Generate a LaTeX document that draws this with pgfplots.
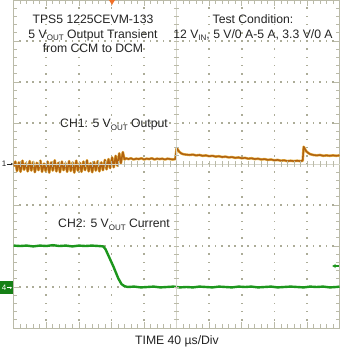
\documentclass[border=0pt]{standalone}
\usepackage{pgfplots}
\pgfplotsset{compat=1.18}
\usepackage{fontspec}
\setmainfont{Liberation Sans}
\usetikzlibrary{arrows.meta}
\definecolor{gridc}{RGB}{186,186,168}
\definecolor{dotc}{RGB}{172,172,152}
\definecolor{ch1}{RGB}{176,98,16}
\definecolor{ch1hi}{RGB}{228,176,70}
\definecolor{ch2}{RGB}{28,150,28}
\definecolor{ch2box}{RGB}{22,128,22}
\definecolor{trig}{RGB}{240,112,40}
\definecolor{txt}{RGB}{35,35,35}
\newcommand\sub[1]{\raisebox{-0.35ex}{\fontsize{8}{8}\selectfont #1}}

\pgfplotstableread{
x y
0.00 -0.06
0.05 0.06
0.10 -0.17
0.16 0.04
0.21 -0.19
0.27 0.08
0.32 -0.14
0.38 0.02
0.43 -0.18
0.49 0.07
0.54 -0.16
0.60 0.05
0.65 -0.20
0.71 0.03
0.76 -0.15
0.82 0.08
0.87 -0.19
0.93 0.01
0.98 -0.17
1.04 0.06
1.09 -0.21
1.15 0.04
1.20 -0.16
1.26 0.09
1.31 -0.18
1.37 0.03
1.42 -0.20
1.48 0.06
1.53 -0.15
1.59 0.02
1.64 -0.19
1.70 0.07
1.75 -0.17
1.81 0.04
1.86 -0.21
1.92 0.08
1.97 -0.16
2.03 0.03
2.08 -0.19
2.14 0.06
2.19 -0.15
2.25 0.09
2.30 -0.18
2.36 0.02
2.41 -0.20
2.47 0.05
2.52 -0.16
2.58 0.07
2.63 -0.18
2.69 0.04
2.74 -0.15
2.80 0.10
2.85 -0.13
2.91 0.12
2.96 -0.10
3.02 0.16
3.07 -0.08
3.13 0.20
3.18 -0.04
3.24 0.26
3.29 0.02
3.35 0.29
3.40 0.11
3.45 0.14
3.52 0.12
3.60 0.14
3.68 0.11
3.76 0.13
3.84 0.12
3.92 0.14
4.00 0.11
4.08 0.13
4.16 0.12
4.24 0.14
4.32 0.11
4.40 0.13
4.48 0.12
4.56 0.13
4.64 0.11
4.72 0.13
4.80 0.12
4.88 0.11
4.96 0.12
5.00 0.38
5.03 0.36
5.08 0.30
5.14 0.26
5.20 0.24
5.28 0.23
5.40 0.22
5.50 0.23
5.60 0.21
5.70 0.22
5.80 0.20
5.90 0.21
6.00 0.19
6.10 0.20
6.20 0.18
6.30 0.19
6.40 0.17
6.50 0.18
6.60 0.16
6.70 0.17
6.80 0.15
6.90 0.16
7.00 0.14
7.10 0.15
7.20 0.13
7.30 0.14
7.40 0.12
7.50 0.13
7.60 0.11
7.70 0.12
7.80 0.10
7.90 0.11
8.00 0.09
8.10 0.10
8.20 0.08
8.30 0.09
8.40 0.07
8.50 0.08
8.60 0.07
8.70 0.08
8.80 0.07
8.87 0.08
8.90 0.42
8.93 0.38
8.98 0.31
9.04 0.27
9.10 0.24
9.20 0.22
9.30 0.21
9.40 0.22
9.50 0.20
9.60 0.21
9.70 0.20
9.80 0.21
9.90 0.20
10.00 0.21
}\chone

\pgfplotstableread{
x y
0.00 -1.99
0.20 -2.00
0.40 -1.99
0.60 -2.01
0.80 -1.99
1.00 -2.00
1.20 -1.98
1.40 -2.00
1.60 -1.99
1.80 -2.01
2.00 -1.99
2.20 -2.00
2.40 -1.99
2.60 -2.00
2.75 -2.01
2.82 -2.08
2.90 -2.22
3.06 -2.50
3.21 -2.79
3.31 -2.93
3.40 -2.98
3.50 -3.00
3.70 -2.99
3.90 -3.01
4.10 -3.00
4.30 -2.99
4.50 -3.01
4.70 -3.00
4.90 -2.99
5.10 -3.01
5.30 -3.00
5.50 -3.01
5.70 -2.99
5.90 -3.00
6.10 -3.01
6.30 -2.99
6.50 -3.00
6.70 -3.01
6.90 -2.99
7.10 -3.00
7.30 -2.99
7.50 -3.01
7.70 -3.00
7.90 -2.99
8.10 -3.01
8.30 -3.00
8.50 -2.99
8.70 -3.00
8.90 -3.01
9.10 -2.99
9.30 -3.00
9.50 -2.99
9.70 -3.01
9.90 -3.00
10.00 -2.99
}\chtwo

\begin{document}
\begin{tikzpicture}[font=\fontsize{12.2}{14}\selectfont]
% grid dots (background)
\foreach \i in {1,2,3,4,6,7,8,9} {
  \foreach \j in {1,...,39} {
    \fill[dotc] ({\i*32.58pt-0.8pt},{\j*8.2pt-0.8pt}) rectangle +(1.6pt,1.6pt);
  }
}
\foreach \k in {1,2,3,5,6,7} {
  \foreach \j in {1,...,49} {
    \fill[dotc] ({\j*6.516pt-0.8pt},{\k*41pt-0.8pt}) rectangle +(1.6pt,1.6pt);
  }
}
\begin{axis}[
 at={(0,0)}, anchor=south west,
 scale only axis, width=325.8pt, height=328pt,
 xmin=0,xmax=10,ymin=-4,ymax=4,
 xtick={0,...,10}, ytick={-4,...,4},
 minor x tick num=4, minor y tick num=4,
 xticklabels={}, yticklabels={},
 major tick length=6pt, minor tick length=3.5pt,
 tick style={draw=gridc, line width=0.7pt},
 axis line style={draw=gridc, line width=0.9pt},
]
\addplot[ch1hi, line width=2.6pt, line join=round] table[x=x,y=y] {\chone};
\addplot[ch1, line width=1.5pt, line join=round] table[x=x,y=y] {\chone};
\addplot[ch2, line width=2.4pt, line join=round] table[x=x,y=y] {\chtwo};
\end{axis}
% centre cross with ticks
\draw[gridc!60, line width=0.5pt] (162.9pt,0) -- (162.9pt,328pt);
\draw[gridc!60, line width=0.5pt] (0,164pt) -- (325.8pt,164pt);
\foreach \i in {1,...,39} \draw[gridc, line width=0.7pt] (160.2pt,\i*8.2pt) -- ++(5.4pt,0);
\foreach \i in {1,...,49} \draw[gridc, line width=0.7pt] (\i*6.516pt,161.3pt) -- ++(0,5.4pt);
% channel markers
\node[text=txt, font=\fontsize{8}{8}\selectfont, inner sep=0pt] at (-9.5pt,164pt) {1};
\draw[txt, line width=0.5pt, -{Stealth[length=2pt,width=2.5pt]}] (-6.5pt,164pt) -- (-0.8pt,164pt);
\fill[ch2box] (-13.7pt,34pt) rectangle (-0.4pt,46.5pt);
\node[text=white, font=\fontsize{8}{8}\selectfont, inner sep=0pt] at (-9.5pt,40.2pt) {4};
\draw[white, line width=0.6pt, -{Stealth[length=2pt,width=2.5pt]}] (-6.5pt,40.2pt) -- (-1.8pt,40.2pt);
\draw[ch2, line width=1.1pt, -{Stealth[length=3.5pt,width=4pt]}] (325.5pt,62pt) -- (318.5pt,62pt);
\fill[trig] (95.3pt,328pt) -- (101.3pt,328pt) -- (98.3pt,323pt) -- cycle;
% texts
\begin{scope}[text=txt]
\node[anchor=base] at (79.3pt,304pt) {TPS5 1225CEVM-133};
\node[anchor=base] at (79.3pt,289.7pt) {5 V\sub{OUT} Output Transient};
\node[anchor=base] at (79.3pt,275pt) {from CCM to DCM};
\node[anchor=base] at (239.3pt,304pt) {Test Condition:};
\node[anchor=base] at (239.3pt,289.7pt) {12 V\sub{IN}, 5 V/0 A-5 A, 3.3 V/0 A};
\node[anchor=base] at (100.3pt,200pt) {CH1: 5 V\sub{OUT} Output};
\node[anchor=base] at (100.3pt,100pt) {CH2: 5 V\sub{OUT} Current};
\node[anchor=base] at (163.3pt,-16pt) {TIME 40 µs/Div};
\end{scope}
\pgfresetboundingbox
\path[use as bounding box] (-13.7pt,-20pt) rectangle (328.3pt,328pt);
\end{tikzpicture}
\end{document}
